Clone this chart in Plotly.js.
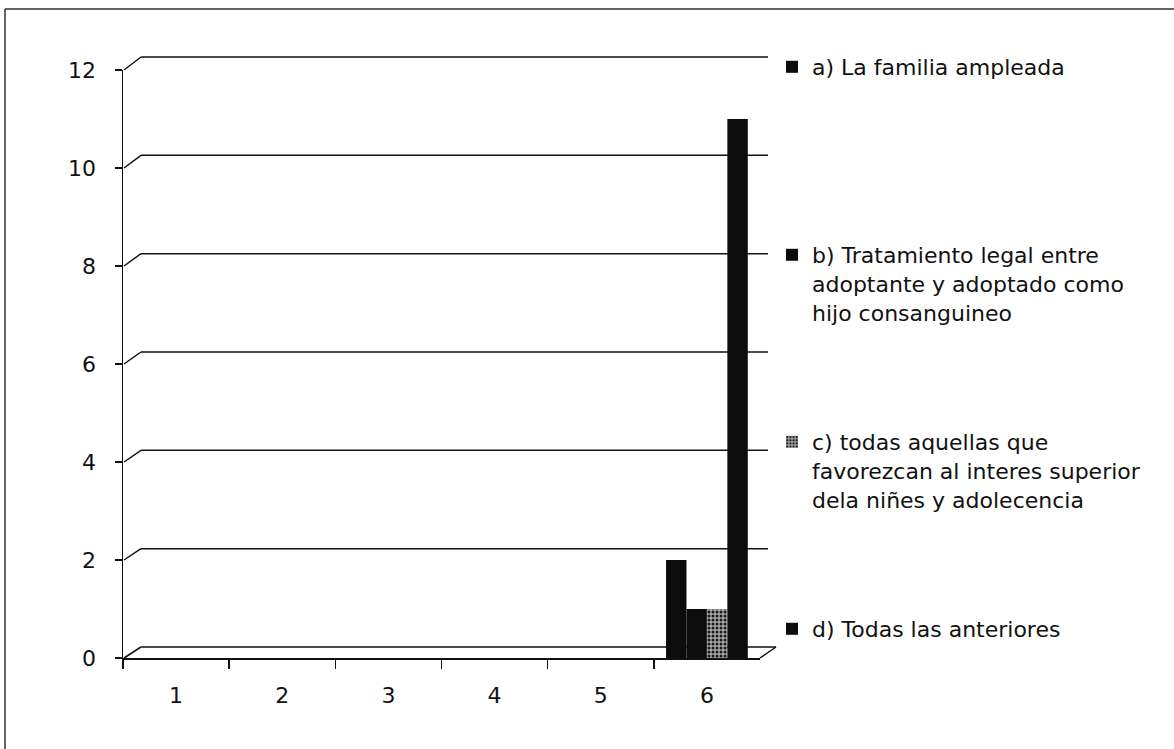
<!DOCTYPE html>
<html>
<head>
<meta charset="utf-8">
<script src="https://cdn.plot.ly/plotly-3.0.1.min.js"></script>
<style>html,body{margin:0;padding:0;background:#fff;}#chart{width:1174px;height:749px;}</style>
</head>
<body>
<div id="chart"></div>
<script>
// ---- data ----
const categories = ['1', '2', '3', '4', '5', '6'];
const seriesNames = [
  'a) La familia ampleada',
  'b) Tratamiento legal entre<br>adoptante y adoptado como<br>hijo consanguineo',
  'c) todas aquellas que<br>favorezcan al interes superior<br>dela niñes y adolecencia',
  'd) Todas las anteriores'
];
const seriesA = [0, 0, 0, 0, 0, 2];
const seriesB = [0, 0, 0, 0, 0, 1];
const seriesC = [0, 0, 0, 0, 0, 1];
const seriesD = [0, 0, 0, 0, 0, 11];
const yTicks = [0, 2, 4, 6, 8, 10, 12];

// ---- geometry (pixels) ----
const W = 1174, H = 749;
const FX0 = 123, FX1 = 760, FY0 = 658, FY1 = 70;   // front plane
const BX0 = 141, BX1 = 768, BY0 = 647, BY1 = 57;   // back wall
const px = v => v / W;
const py = v => (H - v) / H;
const yMax = 12;

const FONT = '"DejaVu Sans", Verdana, sans-serif';
const dark = '#0c0c0c';

const allSeries = [seriesA, seriesB, seriesC, seriesD];
const legends = ['legend', 'legend2', 'legend3', 'legend4'];
const traces = allSeries.map((vals, i) => {
  const t = {
    type: 'bar',
    x: categories,
    y: vals,
    name: seriesNames[i],
    xaxis: 'x2', yaxis: 'y2',
    legend: legends[i],
    marker: {color: dark, line: {width: 0}},
    hoverinfo: 'skip'
  };
  if (i === 2) {
    t.marker = {color: '#9a9a9a', line: {width: 0},
      pattern: {shape: '.', fgcolor: '#1a1a1a', bgcolor: '#a8a8a8', size: 4, solidity: 0.45}};
  }
  return t;
});

// decorative frame, back-wall gridlines, 3D connectors & floor
const shapes = [];
const ln = {color: '#111', width: 1.5};
shapes.push({type: 'line', xref: 'paper', yref: 'paper', x0: px(5), x1: px(1174), y0: py(9), y1: py(9), line: {color: '#333', width: 1.5}});
shapes.push({type: 'line', xref: 'paper', yref: 'paper', x0: px(5), x1: px(5), y0: py(9), y1: py(749), line: {color: '#333', width: 1.5}});
yTicks.forEach(v => {
  const fy = FY0 - v * (FY0 - FY1) / yMax;
  const by = BY0 - v * (BY0 - BY1) / yMax;
  shapes.push({type: 'line', layer: 'below', xref: 'paper', yref: 'paper', x0: px(BX0), y0: py(by), x1: px(BX1), y1: py(by), line: ln});
  shapes.push({type: 'line', layer: 'below', xref: 'paper', yref: 'paper', x0: px(FX0 + 1), y0: py(fy), x1: px(BX0), y1: py(by), line: ln});
});
// floor right edge
shapes.push({type: 'line', xref: 'paper', yref: 'paper', x0: px(FX1), y0: py(FY0), x1: px(BX1 + 8), y1: py(BY0), line: ln});
shapes.push({type: 'line', xref: 'paper', yref: 'paper', x0: px(BX1), y0: py(BY0), x1: px(BX1 + 8), y1: py(BY0), line: ln});

function legendAt(yTopPx) {
  return {
    x: px(772), xanchor: 'left', y: py(yTopPx), yanchor: 'top',
    valign: 'top', bgcolor: 'rgba(0,0,0,0)', borderwidth: 0,
    font: {family: FONT, size: 22, color: '#111'}, itemclick: false, itemdoubleclick: false
  };
}

const layout = {
  width: W, height: H,
  margin: {l: 0, r: 0, t: 0, b: 0},
  paper_bgcolor: '#fff', plot_bgcolor: 'rgba(0,0,0,0)',
  showlegend: true,
  barmode: 'group', bargap: 0.23, bargroupgap: 0,
  xaxis2: {domain: [px(FX0), px(FX1)], anchor: 'y2', type: 'category', range: [-0.5, 5.5],
    showgrid: false, zeroline: false, showline: true, linecolor: '#111', linewidth: 1.5,
    ticks: 'outside', tickson: 'boundaries', ticklen: 9, tickwidth: 1.5, tickcolor: '#111',
    ticklabelstandoff: 17,
    tickfont: {family: FONT, size: 22, color: '#111'}, fixedrange: true},
  yaxis2: {domain: [py(FY0), py(FY1)], anchor: 'x2', range: [0, 12], dtick: 2, tick0: 0,
    showgrid: false, zeroline: false, showline: true, linecolor: '#111', linewidth: 1.5,
    ticks: 'outside', ticklen: 7, tickwidth: 1.5, tickcolor: '#111', ticklabelstandoff: 14,
    tickfont: {family: FONT, size: 22, color: '#111'}, fixedrange: true},
  legend: legendAt(46),
  legend2: legendAt(234),
  legend3: legendAt(421),
  legend4: legendAt(608),
  shapes: shapes
};

Plotly.newPlot('chart', traces, layout, {staticPlot: true, displayModeBar: false});
</script>
</body>
</html>
